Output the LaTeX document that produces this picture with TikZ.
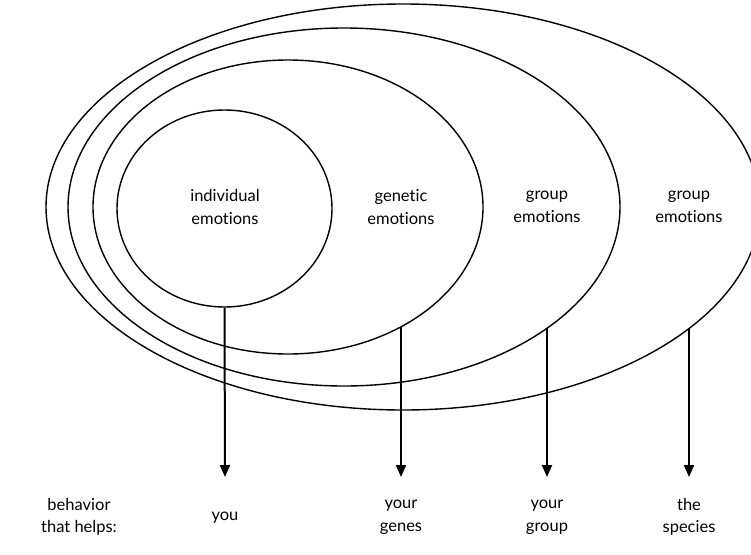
\documentclass[tikz,border=0pt]{standalone}
\usepackage{fontspec}
\setmainfont{Lato}[Ligatures={NoCommon}]
\usetikzlibrary{arrows.meta,shapes.geometric}
\begin{document}
\begin{tikzpicture}[x=1pt,y=-1pt,
  ring/.style={draw=black,line width=1.4pt,ellipse,inner sep=0pt},
  lbl/.style={align=center,font=\fontsize{16.5}{22.5}\selectfont,inner sep=0pt},
  arr/.style={line width=2pt,-{Triangle[length=12pt,width=10pt]}}]
\useasboundingbox (0,0) rectangle (751,554);
\clip (0,0) rectangle (751,554);
\node[ring,minimum width=714pt,minimum height=406pt] (e4) at (403,207) {};
\node[ring,minimum width=552pt,minimum height=358pt] (e3) at (344,207) {};
\node[ring,minimum width=390pt,minimum height=294pt] (e2) at (288,207) {};
\node[ring,minimum width=215pt,minimum height=197pt] (e1) at (224.5,208.5) {};
\node[lbl] (t1) at (225,207) {individual\\emotions};
\node[lbl] (t2) at (401,207) {genetic\\emotions};
\node[lbl] (t3) at (547,207) {group\\emotions};
\node[lbl] (t4) at (689,207) {group\\emotions};
\node[lbl] (b0) at (79,517) {behavior\\that helps:};
\node[lbl] (b1) at (225,518) {you};
\node[lbl] (b2) at (401,517) {your\\genes};
\node[lbl] (b3) at (547,517) {your\\group};
\node[lbl] (b4) at (689,517) {the\\species};
\coordinate (s1) at (e1.south);
\coordinate (s2) at (401,327);
\coordinate (s3) at (547,328);
\coordinate (s4) at (689,329);
\coordinate (h1) at (225,477);
\coordinate (h2) at (401,477);
\coordinate (h3) at (547,477);
\coordinate (h4) at (689,477);
\draw[arr] (s1) -- (h1);
\draw[arr] (s2) -- (h2);
\draw[arr] (s3) -- (h3);
\draw[arr] (s4) -- (h4);
\end{tikzpicture}
\end{document}
